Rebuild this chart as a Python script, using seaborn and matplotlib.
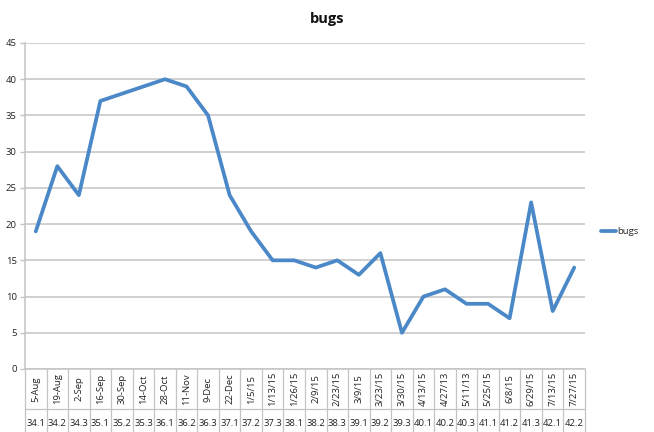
import matplotlib
matplotlib.use("Agg")
import matplotlib.pyplot as plt
import matplotlib.transforms as mtransforms
import seaborn as sns
import pandas as pd

dates = ["5-Aug", "19-Aug", "2-Sep", "16-Sep", "30-Sep", "14-Oct", "28-Oct", "11-Nov",
         "9-Dec", "22-Dec", "1/5/15", "1/13/15", "1/26/15", "2/9/15", "2/23/15", "3/9/15",
         "3/23/15", "3/30/15", "4/13/15", "4/27/13", "5/11/13", "5/25/15", "6/8/15",
         "6/29/15", "7/13/15", "7/27/15"]
versions = ["34.1", "34.2", "34.3", "35.1", "35.2", "35.3", "36.1", "36.2", "36.3", "37.1",
            "37.2", "37.3", "38.1", "38.2", "38.3", "39.1", "39.2", "39.3", "40.1", "40.2",
            "40.3", "41.1", "41.2", "41.3", "42.1", "42.2"]
bugs = [19, 28, 24, 37, 38, 39, 40, 39, 35, 24, 19, 15, 15, 14, 15, 13, 16, 5, 10, 11,
        9, 9, 7, 23, 8, 14]
yticks = [0, 5, 10, 15, 20, 25, 30, 35, 40, 45]

sns.set_style("white")
plt.rcParams['font.family'] = ['Open Sans', 'DejaVu Sans']

W, H = 654, 432
fig = plt.figure(figsize=(W / 100, H / 100), dpi=100)
left, right, top, bottom = 25, 585, 43, 369
ax = fig.add_axes([left / W, (H - bottom) / H, (right - left) / W, (bottom - top) / H])

df = pd.DataFrame({"idx": range(len(bugs)), "bugs": bugs})
sns.lineplot(data=df, x="idx", y="bugs", ax=ax, color="#4a88c8", linewidth=2.7,
             label="bugs", legend=True)

grid_c = "#c4c4c4"
ax.set_xlim(-0.5, len(bugs) - 0.5)
ax.set_ylim(0, 45)
ax.set_yticks(yticks)
ax.set_yticklabels([str(v) for v in yticks], fontsize=6.8, color="#222222")
ax.yaxis.grid(True, color=grid_c, linewidth=1.1)
ax.set_axisbelow(True)
for s in ["top", "right"]:
    ax.spines[s].set_visible(False)
for s in ["left", "bottom"]:
    ax.spines[s].set_color(grid_c)
    ax.spines[s].set_linewidth(1.1)
ax.tick_params(axis="y", left=True, length=3.5, color=grid_c, width=1, pad=2.5)
ax.set_xlabel("")
ax.set_ylabel("")

# x axis: dividers as minor ticks, no major tick labels
ax.set_xticks(range(len(bugs)))
ax.set_xticklabels([])
ax.tick_params(axis="x", which="major", length=0)
ax.set_xticks([i - 0.5 for i in range(len(bugs) + 1)], minor=True)
ax.tick_params(axis="x", which="minor", bottom=True, length=(432 - bottom) * 0.72,
               color=grid_c, width=0.9)

ph = bottom - top
trans = mtransforms.blended_transform_factory(ax.transData, ax.transAxes)
y_date = -(389 - bottom) / ph
y_ver = -(423 - bottom) / ph
y_line = -(409 - bottom) / ph
for i, (d, v) in enumerate(zip(dates, versions)):
    ax.text(i, y_date, d, transform=trans, rotation=90, ha="center", va="center",
            fontsize=6.8, color="#222222")
    ax.text(i, y_ver, v, transform=trans, ha="center", va="center",
            fontsize=6.8, color="#222222")
ax.plot([0, 1], [y_line, y_line], transform=ax.transAxes, color=grid_c, linewidth=0.9,
        clip_on=False)

fig.text(327 / W, 1 - 19 / H, "bugs", ha="center", va="center", fontsize=10.5,
         fontweight="bold", color="#111111")

leg = ax.legend(loc="center left", bbox_to_anchor=((601 - left) / (right - left), (bottom - 232) / ph),
                frameon=False, fontsize=6.8, handlelength=1.6, handletextpad=0.1,
                borderaxespad=0, borderpad=0)

fig.savefig("out.png", dpi=100)
